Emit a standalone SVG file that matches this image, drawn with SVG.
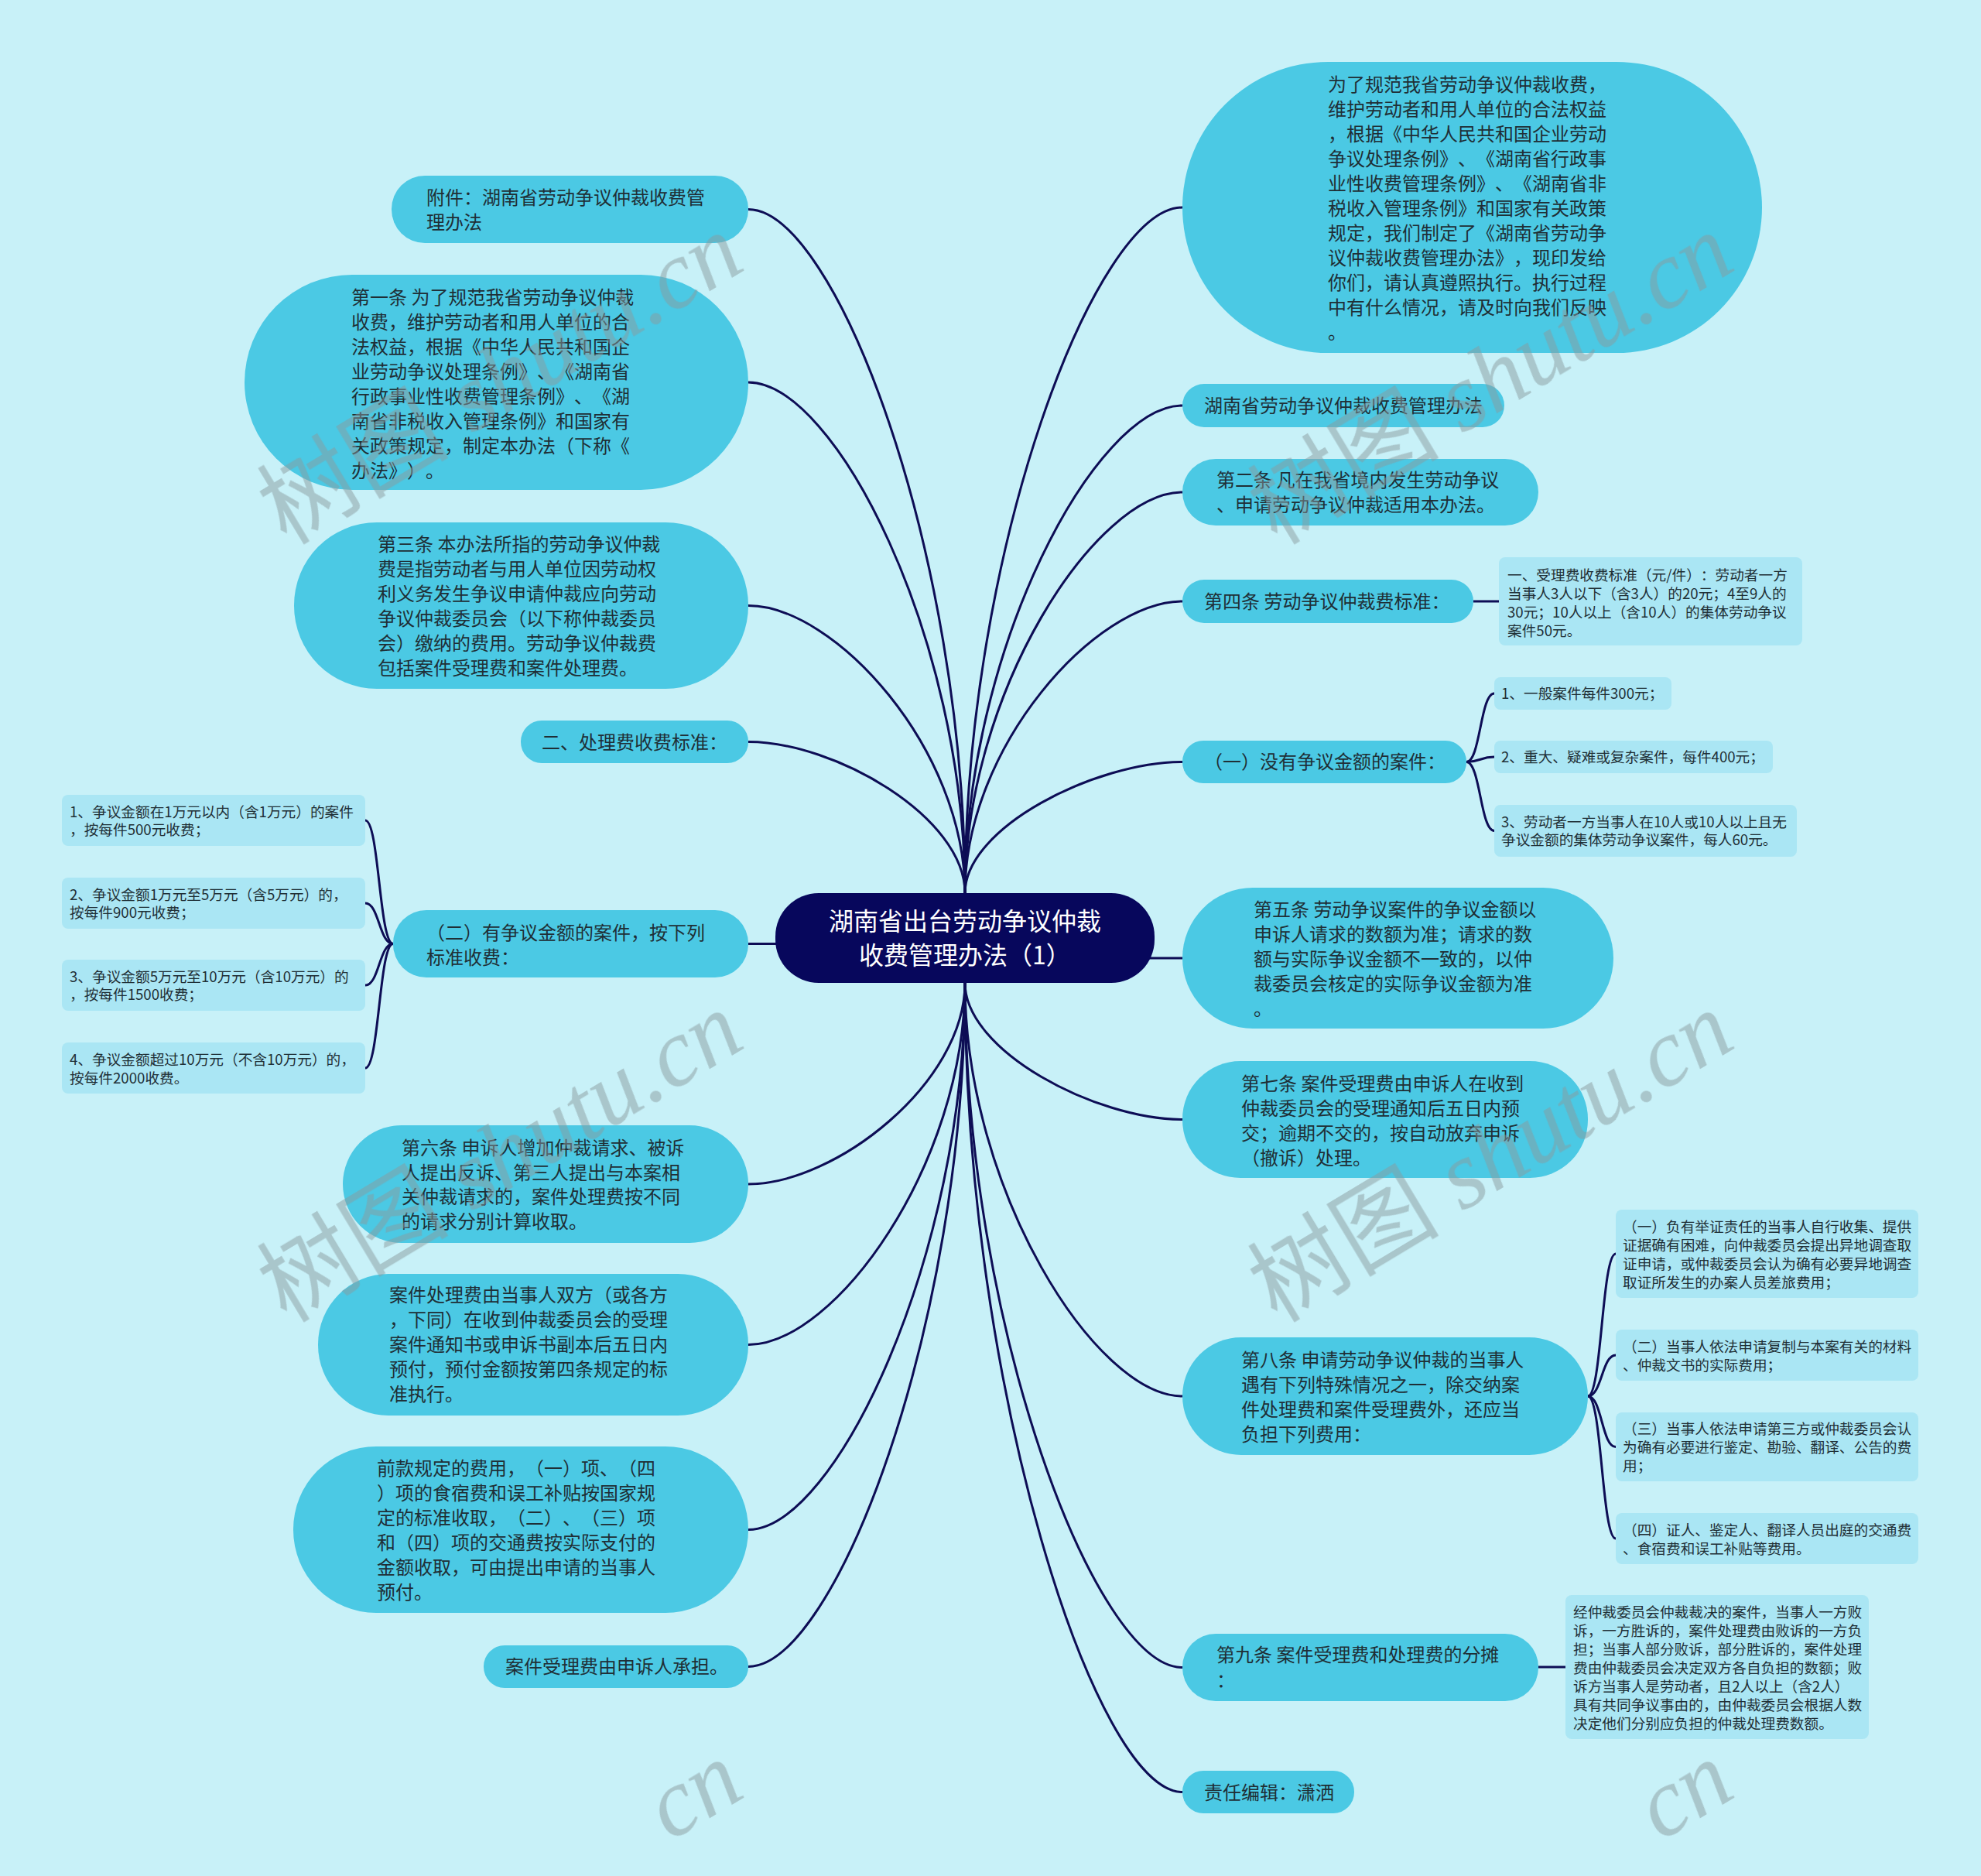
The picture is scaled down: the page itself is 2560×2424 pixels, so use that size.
<svg xmlns="http://www.w3.org/2000/svg" width="2560" height="2424" viewBox="0 0 2560 2424">
<style>
.bg{fill:#c8f1f8}
.n rect{fill:#4bc9e4}
.c rect{fill:#aae6f4}
.t{font-family:"Noto Sans CJK SC","Noto Sans",sans-serif;font-size:24px;fill:#1f2f36;text-spacing-trim:space-all}
.s{font-size:18.67px}
.ct{font-family:"Noto Sans CJK SC","Noto Sans",sans-serif;font-size:32px;fill:#ffffff;text-anchor:middle;text-spacing-trim:space-all}
.ln path{fill:none;stroke:#0d0d55;stroke-width:3}
.wm{font-size:124px;fill:#8a9a9e;opacity:0.5}
.wz{font-family:"Noto Sans CJK SC",sans-serif}
.we{font-family:"Liberation Serif",serif;font-style:italic}
</style>
<rect class="bg" x="0" y="0" width="2560" height="2424"/>
<g id="connectors" class="ln">
<path d="M1247 1154 C1247 711,1416 268,1528 268"/>
<path d="M1247 1154 C1247 839,1416 524,1528 524"/>
<path d="M1247 1154 C1247 895,1416 636,1528 636"/>
<path d="M1247 1154 C1247 965,1416 777,1528 777"/>
<path d="M1247 1154 C1247 1069,1416 984.5,1528 984.5"/>
<path d="M1247 1154 C1247 712,1079 270.5,967 270.5"/>
<path d="M1247 1154 C1247 824,1079 494,967 494"/>
<path d="M1247 1154 C1247 968,1079 782.5,967 782.5"/>
<path d="M1247 1154 C1247 1056,1079 958.5,967 958.5"/>
<path d="M1247 1219.5 H967"/>
<path d="M1247 1238 H1528"/>
<path d="M1247 1270 C1247 1358,1416 1446.5,1528 1446.5"/>
<path d="M1247 1270 C1247 1537,1416 1804,1528 1804"/>
<path d="M1247 1270 C1247 1712,1416 2154.5,1528 2154.5"/>
<path d="M1247 1270 C1247 1793,1416 2315.5,1528 2315.5"/>
<path d="M1247 1270 C1247 1400,1079 1530,967 1530"/>
<path d="M1247 1270 C1247 1504,1079 1737.5,967 1737.5"/>
<path d="M1247 1270 C1247 1623,1079 1976.5,967 1976.5"/>
<path d="M1247 1270 C1247 1712,1079 2153.5,967 2153.5"/>
<path d="M1904 777 H1937"/>
<path d="M1895 984.5 C1913 984.5,1913 896,1931 896"/>
<path d="M1895 984.5 C1913 984.5,1913 978,1931 978"/>
<path d="M1895 984.5 C1913 984.5,1913 1073.5,1931 1073.5"/>
<path d="M508 1219.5 C490 1219.5,490 1060,472 1060"/>
<path d="M508 1219.5 C490 1219.5,490 1167,472 1167"/>
<path d="M508 1219.5 C490 1219.5,490 1273,472 1273"/>
<path d="M508 1219.5 C490 1219.5,490 1380,472 1380"/>
<path d="M2052 1804 C2070 1804,2070 1620,2088 1620"/>
<path d="M2052 1804 C2070 1804,2070 1751,2088 1751"/>
<path d="M2052 1804 C2070 1804,2070 1869.5,2088 1869.5"/>
<path d="M2052 1804 C2070 1804,2070 1988,2088 1988"/>
<path d="M1988 2154 H2023"/>
</g>
<g id="center">
<rect x="1002" y="1154" width="490" height="116" rx="56" fill="#07075c"/>
<text class="ct"><tspan x="1247" y="1202">湖南省出台劳动争议仲裁</tspan><tspan x="1247" y="1246">收费管理办法（1）</tspan></text>
</g>
<g id="r1" class="n">
<rect x="1528" y="80" width="749" height="376" rx="188"/>
<text class="t"><tspan x="1716" y="118">为了规范我省劳动争议仲裁收费，</tspan><tspan x="1716" y="150">维护劳动者和用人单位的合法权益</tspan><tspan x="1716" y="182">，根据《中华人民共和国企业劳动</tspan><tspan x="1716" y="214">争议处理条例》、《湖南省行政事</tspan><tspan x="1716" y="246">业性收费管理条例》、《湖南省非</tspan><tspan x="1716" y="278">税收入管理条例》和国家有关政策</tspan><tspan x="1716" y="310">规定，我们制定了《湖南省劳动争</tspan><tspan x="1716" y="342">议仲裁收费管理办法》，现印发给</tspan><tspan x="1716" y="374">你们，请认真遵照执行。执行过程</tspan><tspan x="1716" y="406">中有什么情况，请及时向我们反映</tspan><tspan x="1716" y="438">。</tspan></text>
</g>
<g id="r2" class="n">
<rect x="1528" y="496" width="416" height="56" rx="28"/>
<text class="t" x="1556" y="533">湖南省劳动争议仲裁收费管理办法</text>
</g>
<g id="r3" class="n">
<rect x="1528" y="593" width="460" height="86" rx="43"/>
<text class="t"><tspan x="1572" y="629">第二条 凡在我省境内发生劳动争议</tspan><tspan x="1572" y="661">、申请劳动争议仲裁适用本办法。</tspan></text>
</g>
<g id="r4" class="n">
<rect x="1528" y="749" width="376" height="56" rx="28"/>
<text class="t" x="1556" y="786">第四条 劳动争议仲裁费标准：</text>
</g>
<g id="r4c" class="c">
<rect x="1937" y="720" width="392" height="114" rx="8"/>
<text class="t s"><tspan x="1948" y="750">一、受理费收费标准（元/件）：劳动者一方</tspan><tspan x="1948" y="774">当事人3人以下（含3人）的20元；4至9人的</tspan><tspan x="1948" y="798">30元；10人以上（含10人）的集体劳动争议</tspan><tspan x="1948" y="822">案件50元。</tspan></text>
</g>
<g id="r5" class="n">
<rect x="1528" y="957" width="367" height="55" rx="27"/>
<text class="t" x="1556" y="993">（一）没有争议金额的案件：</text>
</g>
<g id="r5a" class="c">
<rect x="1931" y="875" width="229" height="42" rx="8"/>
<text class="t s" x="1940" y="903">1、一般案件每件300元；</text>
</g>
<g id="r5b" class="c">
<rect x="1931" y="957" width="360" height="42" rx="8"/>
<text class="t s" x="1940" y="985">2、重大、疑难或复杂案件，每件400元；</text>
</g>
<g id="r5c" class="c">
<rect x="1931" y="1040" width="391" height="67" rx="8"/>
<text class="t s"><tspan x="1940" y="1069">3、劳动者一方当事人在10人或10人以上且无</tspan><tspan x="1940" y="1092">争议金额的集体劳动争议案件，每人60元。</tspan></text>
</g>
<g id="r6" class="n">
<rect x="1528" y="1147" width="557" height="182" rx="91"/>
<text class="t"><tspan x="1620" y="1184">第五条 劳动争议案件的争议金额以</tspan><tspan x="1620" y="1216">申诉人请求的数额为准；请求的数</tspan><tspan x="1620" y="1248">额与实际争议金额不一致的，以仲</tspan><tspan x="1620" y="1280">裁委员会核定的实际争议金额为准</tspan><tspan x="1620" y="1312">。</tspan></text>
</g>
<g id="r7" class="n">
<rect x="1528" y="1371" width="524" height="151" rx="75"/>
<text class="t"><tspan x="1604" y="1409">第七条 案件受理费由申诉人在收到</tspan><tspan x="1604" y="1441">仲裁委员会的受理通知后五日内预</tspan><tspan x="1604" y="1473">交；逾期不交的，按自动放弃申诉</tspan><tspan x="1604" y="1505">（撤诉）处理。</tspan></text>
</g>
<g id="r8" class="n">
<rect x="1528" y="1728" width="524" height="152" rx="76"/>
<text class="t"><tspan x="1604" y="1766">第八条 申请劳动争议仲裁的当事人</tspan><tspan x="1604" y="1798">遇有下列特殊情况之一，除交纳案</tspan><tspan x="1604" y="1830">件处理费和案件受理费外，还应当</tspan><tspan x="1604" y="1862">负担下列费用：</tspan></text>
</g>
<g id="r8a" class="c">
<rect x="2088" y="1563" width="391" height="114" rx="8"/>
<text class="t s"><tspan x="2097" y="1592">（一）负有举证责任的当事人自行收集、提供</tspan><tspan x="2097" y="1616">证据确有困难，向仲裁委员会提出异地调查取</tspan><tspan x="2097" y="1640">证申请，或仲裁委员会认为确有必要异地调查</tspan><tspan x="2097" y="1664">取证所发生的办案人员差旅费用；</tspan></text>
</g>
<g id="r8b" class="c">
<rect x="2088" y="1718" width="391" height="66" rx="8"/>
<text class="t s"><tspan x="2097" y="1747">（二）当事人依法申请复制与本案有关的材料</tspan><tspan x="2097" y="1771">、仲裁文书的实际费用；</tspan></text>
</g>
<g id="r8c" class="c">
<rect x="2088" y="1825" width="391" height="89" rx="8"/>
<text class="t s"><tspan x="2097" y="1853">（三）当事人依法申请第三方或仲裁委员会认</tspan><tspan x="2097" y="1877">为确有必要进行鉴定、勘验、翻译、公告的费</tspan><tspan x="2097" y="1901">用；</tspan></text>
</g>
<g id="r8d" class="c">
<rect x="2088" y="1955" width="391" height="66" rx="8"/>
<text class="t s"><tspan x="2097" y="1984">（四）证人、鉴定人、翻译人员出庭的交通费</tspan><tspan x="2097" y="2008">、食宿费和误工补贴等费用。</tspan></text>
</g>
<g id="r9" class="n">
<rect x="1528" y="2111" width="460" height="87" rx="43"/>
<text class="t"><tspan x="1572" y="2147">第九条 案件受理费和处理费的分摊</tspan><tspan x="1572" y="2180">：</tspan></text>
</g>
<g id="r9c" class="c">
<rect x="2023" y="2061" width="392" height="186" rx="8"/>
<text class="t s"><tspan x="2033" y="2090">经仲裁委员会仲裁裁决的案件，当事人一方败</tspan><tspan x="2033" y="2114">诉，一方胜诉的，案件处理费由败诉的一方负</tspan><tspan x="2033" y="2138">担；当事人部分败诉，部分胜诉的，案件处理</tspan><tspan x="2033" y="2162">费由仲裁委员会决定双方各自负担的数额；败</tspan><tspan x="2033" y="2186">诉方当事人是劳动者，且2人以上（含2人）</tspan><tspan x="2033" y="2210">具有共同争议事由的，由仲裁委员会根据人数</tspan><tspan x="2033" y="2234">决定他们分别应负担的仲裁处理费数额。</tspan></text>
</g>
<g id="r10" class="n">
<rect x="1528" y="2288" width="222" height="55" rx="27"/>
<text class="t" x="1556" y="2325">责任编辑：潇洒</text>
</g>
<g id="l1" class="n">
<rect x="506" y="227" width="461" height="87" rx="43"/>
<text class="t"><tspan x="551" y="264">附件：湖南省劳动争议仲裁收费管</tspan><tspan x="551" y="296">理办法</tspan></text>
</g>
<g id="l2" class="n">
<rect x="316" y="355" width="651" height="278" rx="139"/>
<text class="t"><tspan x="454" y="393">第一条 为了规范我省劳动争议仲裁</tspan><tspan x="454" y="425">收费，维护劳动者和用人单位的合</tspan><tspan x="454" y="457">法权益，根据《中华人民共和国企</tspan><tspan x="454" y="489">业劳动争议处理条例》、《湖南省</tspan><tspan x="454" y="521">行政事业性收费管理条例》、《湖</tspan><tspan x="454" y="553">南省非税收入管理条例》和国家有</tspan><tspan x="454" y="585">关政策规定，制定本办法（下称《</tspan><tspan x="454" y="617">办法》）。</tspan></text>
</g>
<g id="l3" class="n">
<rect x="380" y="675" width="587" height="215" rx="107"/>
<text class="t"><tspan x="488" y="712">第三条 本办法所指的劳动争议仲裁</tspan><tspan x="488" y="744">费是指劳动者与用人单位因劳动权</tspan><tspan x="488" y="776">利义务发生争议申请仲裁应向劳动</tspan><tspan x="488" y="808">争议仲裁委员会（以下称仲裁委员</tspan><tspan x="488" y="840">会）缴纳的费用。劳动争议仲裁费</tspan><tspan x="488" y="872">包括案件受理费和案件处理费。</tspan></text>
</g>
<g id="l4" class="n">
<rect x="673" y="931" width="294" height="55" rx="27"/>
<text class="t" x="700" y="968">二、处理费收费标准：</text>
</g>
<g id="l5" class="n">
<rect x="508" y="1176" width="459" height="87" rx="43"/>
<text class="t"><tspan x="551" y="1214">（二）有争议金额的案件，按下列</tspan><tspan x="551" y="1246">标准收费：</tspan></text>
</g>
<g id="l5a" class="c">
<rect x="80" y="1027" width="392" height="66" rx="8"/>
<text class="t s"><tspan x="90" y="1056">1、争议金额在1万元以内（含1万元）的案件</tspan><tspan x="90" y="1079">，按每件500元收费；</tspan></text>
</g>
<g id="l5b" class="c">
<rect x="80" y="1134" width="392" height="66" rx="8"/>
<text class="t s"><tspan x="90" y="1163">2、争议金额1万元至5万元（含5万元）的，</tspan><tspan x="90" y="1186">按每件900元收费；</tspan></text>
</g>
<g id="l5c" class="c">
<rect x="80" y="1240" width="392" height="66" rx="8"/>
<text class="t s"><tspan x="90" y="1269">3、争议金额5万元至10万元（含10万元）的</tspan><tspan x="90" y="1292">，按每件1500收费；</tspan></text>
</g>
<g id="l5d" class="c">
<rect x="80" y="1347" width="392" height="66" rx="8"/>
<text class="t s"><tspan x="90" y="1376">4、争议金额超过10万元（不含10万元）的，</tspan><tspan x="90" y="1400">按每件2000收费。</tspan></text>
</g>
<g id="l6" class="n">
<rect x="443" y="1454" width="524" height="152" rx="76"/>
<text class="t"><tspan x="519" y="1492">第六条 申诉人增加仲裁请求、被诉</tspan><tspan x="519" y="1524">人提出反诉、第三人提出与本案相</tspan><tspan x="519" y="1555">关仲裁请求的，案件处理费按不同</tspan><tspan x="519" y="1587">的请求分别计算收取。</tspan></text>
</g>
<g id="l7" class="n">
<rect x="411" y="1646" width="556" height="183" rx="91"/>
<text class="t"><tspan x="503" y="1682">案件处理费由当事人双方（或各方</tspan><tspan x="503" y="1714">，下同）在收到仲裁委员会的受理</tspan><tspan x="503" y="1746">案件通知书或申诉书副本后五日内</tspan><tspan x="503" y="1778">预付，预付金额按第四条规定的标</tspan><tspan x="503" y="1810">准执行。</tspan></text>
</g>
<g id="l8" class="n">
<rect x="379" y="1869" width="588" height="215" rx="107"/>
<text class="t"><tspan x="487" y="1906">前款规定的费用，（一）项、（四</tspan><tspan x="487" y="1938">）项的食宿费和误工补贴按国家规</tspan><tspan x="487" y="1970">定的标准收取，（二）、（三）项</tspan><tspan x="487" y="2002">和（四）项的交通费按实际支付的</tspan><tspan x="487" y="2034">金额收取，可由提出申请的当事人</tspan><tspan x="487" y="2066">预付。</tspan></text>
</g>
<g id="l9" class="n">
<rect x="625" y="2126" width="342" height="55" rx="27"/>
<text class="t" x="653" y="2162">案件受理费由申诉人承担。</text>
</g>
<g id="watermarks" class="wm">
<text transform="translate(370,705) rotate(-31)"><tspan class="wz">树图</tspan><tspan class="we"> shutu.cn</tspan></text>
<text transform="translate(1650,705) rotate(-31)"><tspan class="wz">树图</tspan><tspan class="we"> shutu.cn</tspan></text>
<text transform="translate(370,1710) rotate(-31)"><tspan class="wz">树图</tspan><tspan class="we"> shutu.cn</tspan></text>
<text transform="translate(1650,1710) rotate(-31)"><tspan class="wz">树图</tspan><tspan class="we"> shutu.cn</tspan></text>
<text class="we" transform="translate(866,2380) rotate(-31)">cn</text>
<text class="we" transform="translate(2146,2380) rotate(-31)">cn</text>
</g>
</svg>
